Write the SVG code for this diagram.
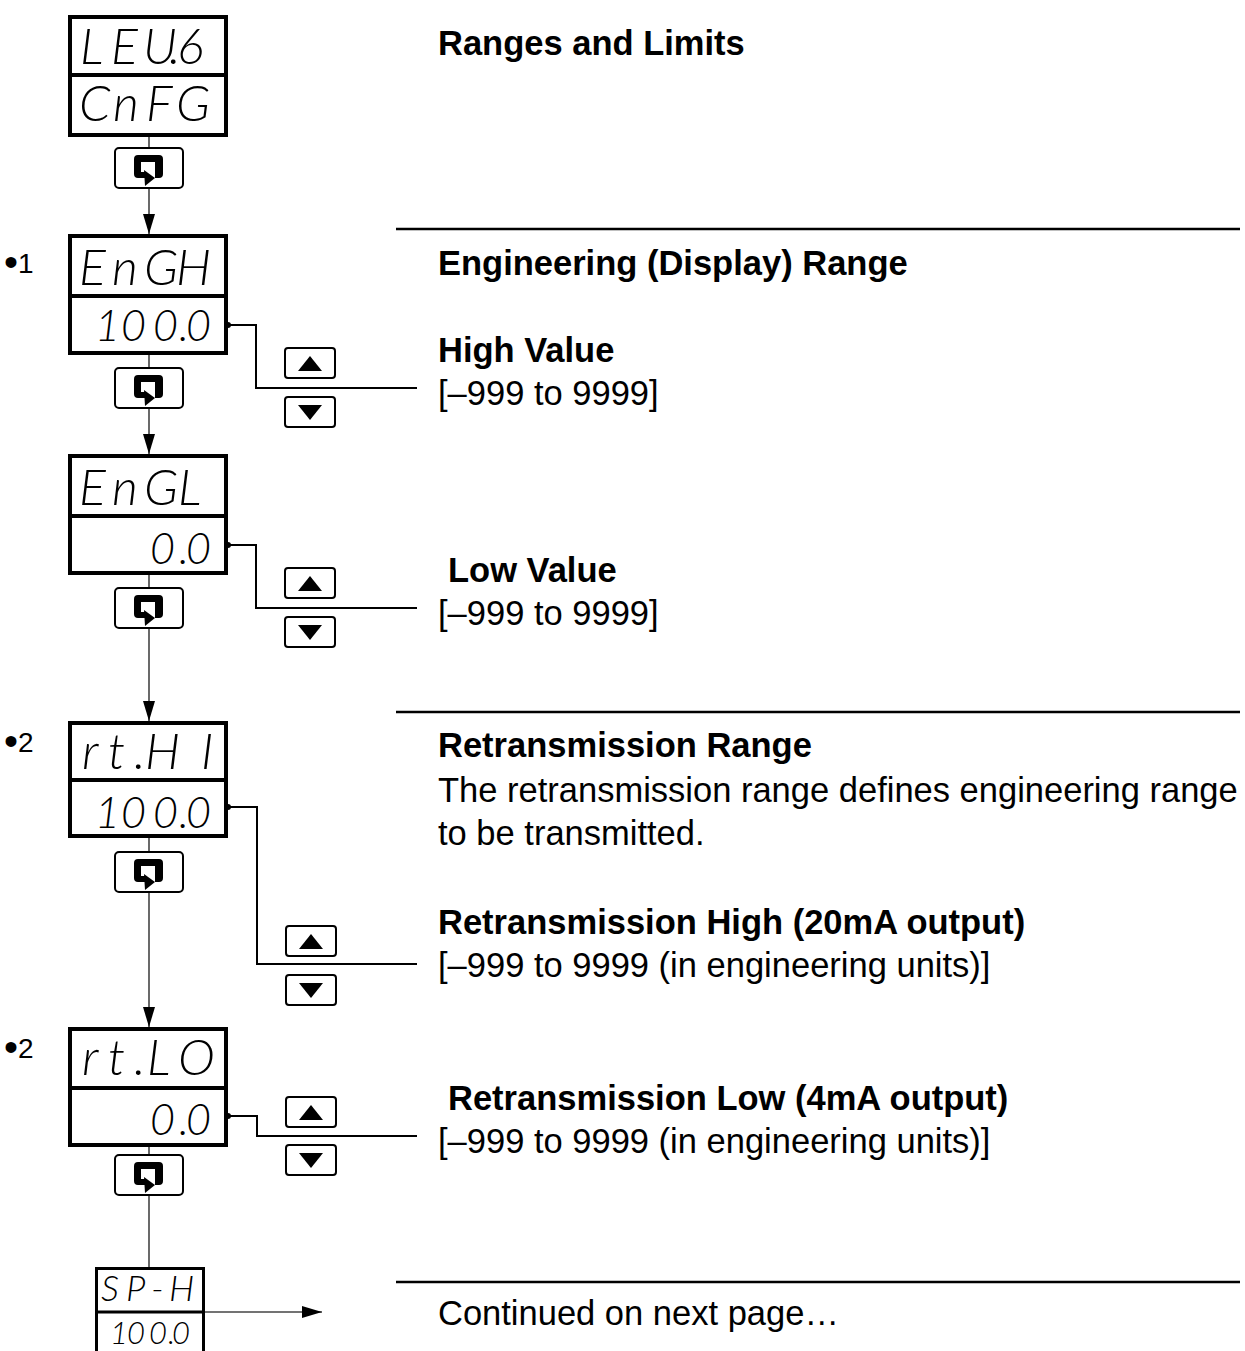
<svg xmlns="http://www.w3.org/2000/svg" xmlns:xlink="http://www.w3.org/1999/xlink" width="1245" height="1351" viewBox="0 0 1245 1351">
<style>
.disp{fill:#fff;stroke:#000;stroke-width:4}
.div{stroke:#000;stroke-width:4}
.seg{font-family:Lato,"DejaVu Sans",sans-serif;font-style:italic;font-weight:300;fill:#000}
.top{font-size:50px}
.bot{font-size:43px}
.key{fill:#fff;stroke:#000;stroke-width:2}
.conn{stroke:#444;stroke-width:1.6;fill:none}
.lead{stroke:#000;stroke-width:2;fill:none}
.rule{stroke:#000;stroke-width:2.5}
.h{font-family:"Liberation Sans",Arial,sans-serif;font-weight:bold;font-size:34.5px;fill:#000}
.t{font-family:"Liberation Sans",Arial,sans-serif;font-size:34.5px;fill:#000}
.n{font-family:"Liberation Sans",Arial,sans-serif;font-size:28px;fill:#000}
.b{font-size:40px}
</style>
<defs>
<marker id="arr" markerUnits="userSpaceOnUse" markerWidth="20" markerHeight="12" refX="20" refY="6" orient="auto" viewBox="0 0 20 12">
<path d="M0,0 L20,6 L0,12 Z" fill="#000"/>
</marker>
<g id="loopKey">
<rect class="key" x="-34" y="-20" width="68" height="40" rx="4"/>
<path d="M-3,10 H-11 A4,4 0 0 1 -15,6 V-9 A4,4 0 0 1 -11,-13 H10 A4,4 0 0 1 14,-9 V6 A4,4 0 0 1 10,10 H6 V-6 H-8 V4 H-3 Z" fill="#000"/>
<path d="M-5,2 L6,10 L-4,18 Z" fill="#000"/>
</g>
<g id="upKey">
<rect class="key" x="0" y="0" width="50" height="30" rx="3"/>
<path d="M13,23 L37,23 L25,8 Z" fill="#000"/>
</g>
<g id="downKey">
<rect class="key" x="0" y="0" width="50" height="30" rx="3"/>
<path d="M13,8 L37,8 L25,23 Z" fill="#000"/>
</g>
</defs>
<rect width="1245" height="1351" fill="#fff"/>

<g id="connectors">
<path class="conn" d="M149,137 V148"/>
<path class="conn" d="M149,188 V234" marker-end="url(#arr)"/>
<path class="conn" d="M149,355 V368"/>
<path class="conn" d="M149,408 V454" marker-end="url(#arr)"/>
<path class="conn" d="M149,575 V588"/>
<path class="conn" d="M149,628 V721" marker-end="url(#arr)"/>
<path class="conn" d="M149,838 V852"/>
<path class="conn" d="M149,892 V1027" marker-end="url(#arr)"/>
<path class="conn" d="M149,1147 V1155"/>
<path class="conn" d="M149,1195 V1267"/>
<path class="conn" d="M205,1312 H322" marker-end="url(#arr)"/>
<path class="lead" d="M228,325 H256 V388 H417"/>
<circle cx="228" cy="325" r="3"/>
<path class="lead" d="M228,545 H256 V608 H417"/>
<circle cx="228" cy="545" r="3"/>
<path class="lead" d="M228,807 H257 V964 H417"/>
<circle cx="228" cy="807" r="3"/>
<path class="lead" d="M228,1116 H257 V1136 H417"/>
<circle cx="228" cy="1116" r="3"/>
</g>

<g id="rules">
<line class="rule" x1="396" y1="229" x2="1240" y2="229"/>
<line class="rule" x1="396" y1="712" x2="1240" y2="712"/>
<line class="rule" x1="396" y1="1282" x2="1240" y2="1282"/>
</g>

<g id="node-leu6">
<rect class="disp" x="70" y="17" width="156" height="118"/>
<line class="div" x1="70" y1="75" x2="226" y2="75"/>
<text class="seg top" x="80 111 143 169 177" y="64">LEU.6</text>
<text class="seg top" x="79 113 146 176" y="121">CnFG</text>
</g>
<use id="key-1" href="#loopKey" x="149" y="168"/>

<g id="node-engh">
<text class="n" x="4" y="273"><tspan class="b" dy="3">•</tspan><tspan dy="-3">1</tspan></text>
<rect class="disp" x="70" y="236" width="156" height="117"/>
<line class="div" x1="70" y1="296" x2="226" y2="296"/>
<text class="seg top" x="79 112 144 176" y="285">EnGH</text>
<text class="seg bot" x="95 121 153 179 186" y="341">100.0</text>
</g>
<use id="key-2" href="#loopKey" x="149" y="388"/>
<use id="up-2" href="#upKey" x="285" y="348"/>
<use id="down-2" href="#downKey" x="285" y="397"/>

<g id="node-engl">
<rect class="disp" x="70" y="456" width="156" height="117"/>
<line class="div" x1="70" y1="516" x2="226" y2="516"/>
<text class="seg top" x="79 112 144 178" y="505">EnGL</text>
<text class="seg bot" x="150 179 186" y="564">0.0</text>
</g>
<use id="key-3" href="#loopKey" x="149" y="608"/>
<use id="up-3" href="#upKey" x="285" y="568"/>
<use id="down-3" href="#downKey" x="285" y="617"/>

<g id="node-rthi">
<text class="n" x="4" y="752"><tspan class="b" dy="3">•</tspan><tspan dy="-3">2</tspan></text>
<rect class="disp" x="70" y="723" width="156" height="113"/>
<line class="div" x1="70" y1="780" x2="226" y2="780"/>
<text class="seg top" x="82 108 134 145 201" y="769">rt.HI</text>
<text class="seg bot" x="95 121 153 179 186" y="828">100.0</text>
</g>
<use id="key-4" href="#loopKey" x="149" y="872"/>
<use id="up-4" href="#upKey" x="286" y="926"/>
<use id="down-4" href="#downKey" x="286" y="975"/>

<g id="node-rtlo">
<text class="n" x="4" y="1058"><tspan class="b" dy="3">•</tspan><tspan dy="-3">2</tspan></text>
<rect class="disp" x="70" y="1029" width="156" height="116"/>
<line class="div" x1="70" y1="1088" x2="226" y2="1088"/>
<text class="seg top" x="82 108 134 147 178" y="1075">rt.LO</text>
<text class="seg bot" x="150 179 186" y="1135">0.0</text>
</g>
<use id="key-5" href="#loopKey" x="149" y="1175"/>
<use id="up-5" href="#upKey" x="286" y="1097"/>
<use id="down-5" href="#downKey" x="286" y="1145"/>

<g id="node-sph">
<rect x="96.5" y="1268.5" width="107" height="100" fill="#fff" stroke="#000" stroke-width="3"/>
<line x1="96.5" y1="1312" x2="203.5" y2="1312" stroke="#000" stroke-width="3"/>
<text class="seg" font-size="36" x="101 126 151 169" y="1301">SP-H</text>
<text class="seg" font-size="31" x="110 127 149 168 172" y="1344">100.0</text>
</g>

<g id="labels">
<text class="h" x="438" y="55">Ranges and Limits</text>
<text class="h" x="438" y="275">Engineering (Display) Range</text>
<text class="h" x="438" y="362">High Value</text>
<text class="t" x="438" y="405">[–999 to 9999]</text>
<text class="h" x="448" y="582">Low Value</text>
<text class="t" x="438" y="625">[–999 to 9999]</text>
<text class="h" x="438" y="757">Retransmission Range</text>
<text class="t" x="438" y="802">The retransmission range defines engineering range</text>
<text class="t" x="438" y="845">to be transmitted.</text>
<text class="h" x="438" y="934">Retransmission High (20mA output)</text>
<text class="t" x="438" y="977">[–999 to 9999 (in engineering units)]</text>
<text class="h" x="448" y="1110">Retransmission Low (4mA output)</text>
<text class="t" x="438" y="1153">[–999 to 9999 (in engineering units)]</text>
<text class="t" x="438" y="1325">Continued on next page…</text>
</g>
</svg>
